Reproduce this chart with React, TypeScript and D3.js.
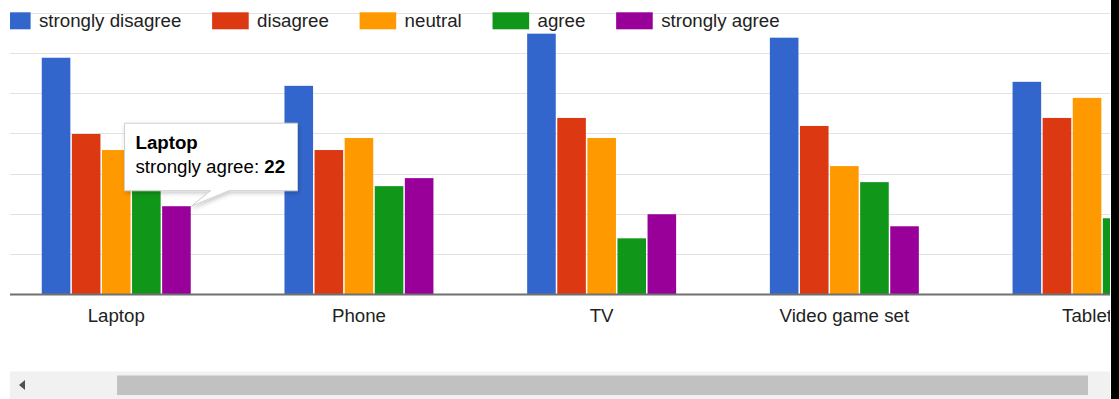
import React, { useEffect, useRef } from 'react';
import * as d3 from 'd3';

// Survey responses per device
const categories = ['Laptop', 'Phone', 'TV', 'Video game set', 'Tablet'];
const seriesNames = ['strongly disagree', 'disagree', 'neutral', 'agree', 'strongly agree'];
const seriesColors = ['#3366cc', '#dc3912', '#ff9900', '#109618', '#990099'];
const stronglyDisagree = [59, 52, 65, 64, 53];
const disagree = [40, 36, 44, 42, 44];
const neutral = [36, 39, 39, 32, 49];
const agree = [31, 27, 14, 28, 19];
const stronglyAgree = [22, 29, 20, 17, 15];
const gridTicks = [10, 20, 30, 40, 50, 60, 70];
const yDomain = [0, 70];

// Hovered point shown in the tooltip
const hoverCategory = 'Laptop';
const hoverSeries = 'strongly agree';

const seriesValues = [stronglyDisagree, disagree, neutral, agree, stronglyAgree];

const W = 1119;
const H = 399;
const FONT = 'Arial, "Liberation Sans", sans-serif';
const FS = 18.7;

export default function App() {
  const ref = useRef<SVGSVGElement | null>(null);

  useEffect(() => {
    const svg = d3.select(ref.current);
    svg.selectAll('*').remove();

    const defs = svg.append('defs');
    defs.append('clipPath').attr('id', 'view').append('rect')
      .attr('x', 10).attr('y', 0).attr('width', 1100).attr('height', H);
    const shadow = defs.append('filter').attr('id', 'tipShadow')
      .attr('x', '-20%').attr('y', '-20%').attr('width', '140%').attr('height', '160%');
    shadow.append('feDropShadow').attr('dx', 1).attr('dy', 2)
      .attr('stdDeviation', 2).attr('flood-color', '#000').attr('flood-opacity', 0.22);

    svg.append('rect').attr('width', W).attr('height', H).attr('fill', '#fff');

    const root = svg.append('g').attr('clip-path', 'url(#view)');

    const y = d3.scaleLinear().domain(yDomain).range([294.5, 13.6]);
    const step = 242.7;
    const x0 = d3.scaleBand<string>().domain(categories)
      .range([-5.1, -5.1 + step * categories.length])
      .paddingInner(0.38).paddingOuter(0.19);
    const x1 = d3.scaleBand<string>().domain(seriesNames).range([0, x0.bandwidth()]);

    // gridlines
    root.append('g').selectAll('line').data(gridTicks).join('line')
      .attr('x1', 10).attr('x2', 1110)
      .attr('y1', (d) => Math.floor(y(d)) + 0.5)
      .attr('y2', (d) => Math.floor(y(d)) + 0.5)
      .attr('stroke', '#e3e3e3').attr('stroke-width', 1.2);

    // legend
    const legend = root.append('g');
    let lx = -6;
    seriesNames.forEach((name, i) => {
      legend.append('rect').attr('x', lx).attr('y', 12.3)
        .attr('width', 36.6).attr('height', 17).attr('fill', seriesColors[i]);
      const t = legend.append('text').attr('x', lx + 36.6 + 8.4).attr('y', 26.6)
        .attr('font-family', FONT).attr('font-size', FS).attr('fill', '#222')
        .text(name);
      const w = (t.node() as SVGTextElement).getComputedTextLength();
      lx = lx + 36.6 + 8.4 + w + 30.8;
    });

    // bars
    const groups = root.append('g').selectAll('g').data(categories).join('g')
      .attr('transform', (c) => `translate(${x0(c)},0)`);
    groups.selectAll('rect')
      .data((c, ci) => seriesNames.map((s, si) => ({ s, si, v: seriesValues[si][ci] })))
      .join('rect')
      .attr('x', (d) => (x1(d.s) as number) + 0.75)
      .attr('width', x1.bandwidth() - 1.5)
      .attr('y', (d) => y(d.v))
      .attr('height', (d) => y(0) - y(d.v))
      .attr('fill', (d) => seriesColors[d.si]);

    // baseline
    root.append('line').attr('x1', 10).attr('x2', 1110)
      .attr('y1', y(0)).attr('y2', y(0))
      .attr('stroke', '#707070').attr('stroke-width', 2);

    // category labels
    root.append('g').selectAll('text').data(categories).join('text')
      .attr('x', (c) => (x0(c) as number) + x0.bandwidth() / 2)
      .attr('y', 322)
      .attr('text-anchor', 'middle')
      .attr('font-family', FONT).attr('font-size', FS).attr('fill', '#222')
      .text((c) => c);

    // tooltip for the hovered bar
    const ci = categories.indexOf(hoverCategory);
    const si = seriesNames.indexOf(hoverSeries);
    const value = seriesValues[si][ci];
    const tipX = (x0(hoverCategory) as number) + (x1(hoverSeries) as number) + x1.bandwidth();
    const tipY = y(value);
    const bx = tipX - 67;
    const bw = 173;
    const bh = 67.5;
    const by = tipY - 15.5 - bh;
    const tip = root.append('g');
    const outline = [
      [bx, by], [bx + bw, by], [bx + bw, by + bh], [tipX + 37.5, by + bh],
      [tipX, tipY], [tipX + 19, by + bh], [bx, by + bh],
    ];
    tip.append('path')
      .attr('d', d3.line()(outline as [number, number][]) + 'Z')
      .attr('fill', '#fff').attr('stroke', '#cfcfcf').attr('stroke-width', 1)
      .attr('filter', 'url(#tipShadow)');
    tip.append('text').attr('x', bx + 11).attr('y', by + 26)
      .attr('font-family', FONT).attr('font-size', FS).attr('font-weight', 'bold')
      .attr('fill', '#000').text(hoverCategory);
    const line2 = tip.append('text').attr('x', bx + 11).attr('y', by + 49.5)
      .attr('font-family', FONT).attr('font-size', FS).attr('fill', '#000');
    line2.append('tspan').text(`${hoverSeries}: `);
    line2.append('tspan').attr('font-weight', 'bold').text(String(value));

    // horizontal scrollbar
    svg.append('rect').attr('x', 10).attr('y', 371.5).attr('width', 1100).attr('height', H - 371.5)
      .attr('fill', '#f1f1f1');
    svg.append('rect').attr('x', 117).attr('y', 375.5).attr('width', 971).attr('height', 19.5)
      .attr('fill', '#c1c1c1');
    svg.append('path').attr('d', 'M19,385 L25,380 L25,390 Z').attr('fill', '#505050');

    // right edge strip
    svg.append('rect').attr('x', 1111).attr('y', 0).attr('width', 8).attr('height', H)
      .attr('fill', '#000');
  }, []);

  return (
    <div style={{ position: 'fixed', left: 0, top: 0 }}>
      <svg ref={ref} width={W} height={H} style={{ display: 'block' }} />
    </div>
  );
}
